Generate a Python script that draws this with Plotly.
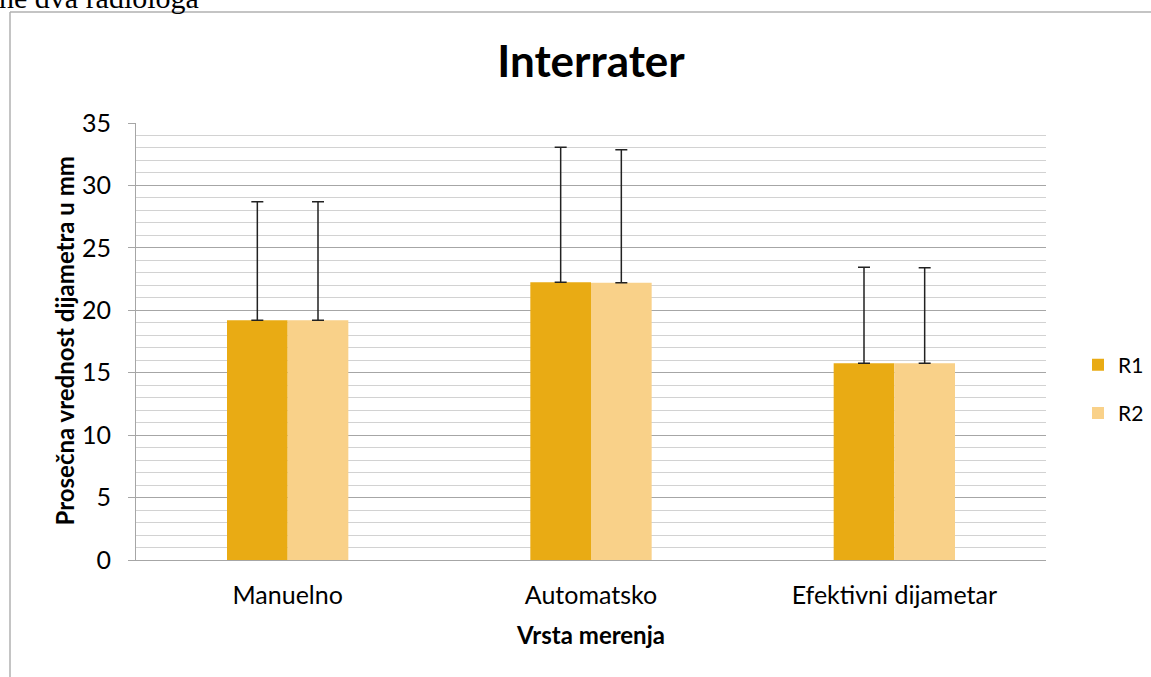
import plotly.graph_objects as go

categories = ["Manuelno", "Automatsko", "Efektivni dijametar"]
r1_values = [19.2, 22.25, 15.75]
r2_values = [19.2, 22.2, 15.75]
r1_errors = [9.5, 10.8, 7.7]
r2_errors = [9.5, 10.65, 7.65]
zeros = [0, 0, 0]

W, H = 1151, 677
L, R, T, B = 136, 105, 123, 117
font = "Lato, 'Open Sans', sans-serif"

def px_x(p):
    return (p - L) / (W - L - R)

def px_y(p):
    return 1 - (p - T) / (H - T - B)

fig = go.Figure()
fig.add_trace(go.Bar(x=categories, y=r1_values, name="R1", legendgroup="r1",
                     marker=dict(color="#E9AB14", line=dict(width=0)),
                     error_y=dict(type="data", array=r1_errors, arrayminus=zeros, symmetric=False,
                                  color="#222222", thickness=1.5, width=6)))
fig.add_trace(go.Bar(x=categories, y=r2_values, name="R2", legendgroup="r2",
                     marker=dict(color="#F9D189", line=dict(width=0)),
                     error_y=dict(type="data", array=r2_errors, arrayminus=zeros, symmetric=False,
                                  color="#222222", thickness=1.5, width=6)))

fig.update_layout(
    width=W, height=H,
    margin=dict(l=L, r=R, t=T, b=B, autoexpand=False),
    paper_bgcolor="white", plot_bgcolor="white",
    font=dict(family=font, size=24, color="#000000"),
    barmode="group", bargap=0.6, bargroupgap=0,
    title=dict(text="<b>Interrater</b>", x=px_x(591), xanchor="center", xref="paper",
               y=1 - 62 / H, yanchor="middle", font=dict(size=44, family=font)),
    legend=dict(x=px_x(1078), xanchor="left", y=px_y(389), yanchor="middle",
                font=dict(size=21), traceorder="grouped", tracegroupgap=18, itemwidth=30,
                bgcolor="rgba(0,0,0,0)"),
    showlegend=True,
)

fig.update_yaxes(range=[0, 35], dtick=5, tick0=0,
                 showgrid=True, gridcolor="#A6A6A6", gridwidth=1,
                 minor=dict(dtick=1, showgrid=True, gridcolor="#D2D2D2", gridwidth=1),
                 showline=True, linecolor="#A6A6A6", linewidth=1,
                 ticks="outside", ticklen=7, tickcolor="#A6A6A6",
                 ticklabelstandoff=12,
                 zeroline=False, tickfont=dict(size=25))
fig.update_xaxes(showline=True, linecolor="#A6A6A6", linewidth=1, showgrid=False,
                 ticks="", tickfont=dict(size=25), ticklabelstandoff=13,
                 title=dict(text="<b>Vrsta merenja</b>", font=dict(size=24), standoff=19))

# y axis title placed as rotated text
fig.add_annotation(text="<b>Prosečna vrednost dijametra u mm</b>", xref="paper", yref="paper",
                   x=px_x(64), xanchor="center", y=0.5, yanchor="middle", textangle=-90,
                   showarrow=False, font=dict(size=24))

# document frame and clipped caption text from the page
fig.add_shape(type="line", xref="paper", yref="paper",
              x0=px_x(10), x1=px_x(10), y0=px_y(12), y1=px_y(H + 5),
              line=dict(color="#B0B0B0", width=1.5))
fig.add_shape(type="line", xref="paper", yref="paper",
              x0=px_x(10), x1=px_x(W + 5), y0=px_y(12), y1=px_y(12),
              line=dict(color="#B0B0B0", width=1.5))
fig.add_annotation(text="ne dva radiologa", xref="paper", yref="paper",
                   x=px_x(-3), xanchor="left", y=px_y(16), yanchor="bottom",
                   showarrow=False, font=dict(family="Liberation Serif", size=30, color="#000000"))

fig.write_html("out.html", config={"displayModeBar": False},
               post_script="document.body.style.margin='0';")
